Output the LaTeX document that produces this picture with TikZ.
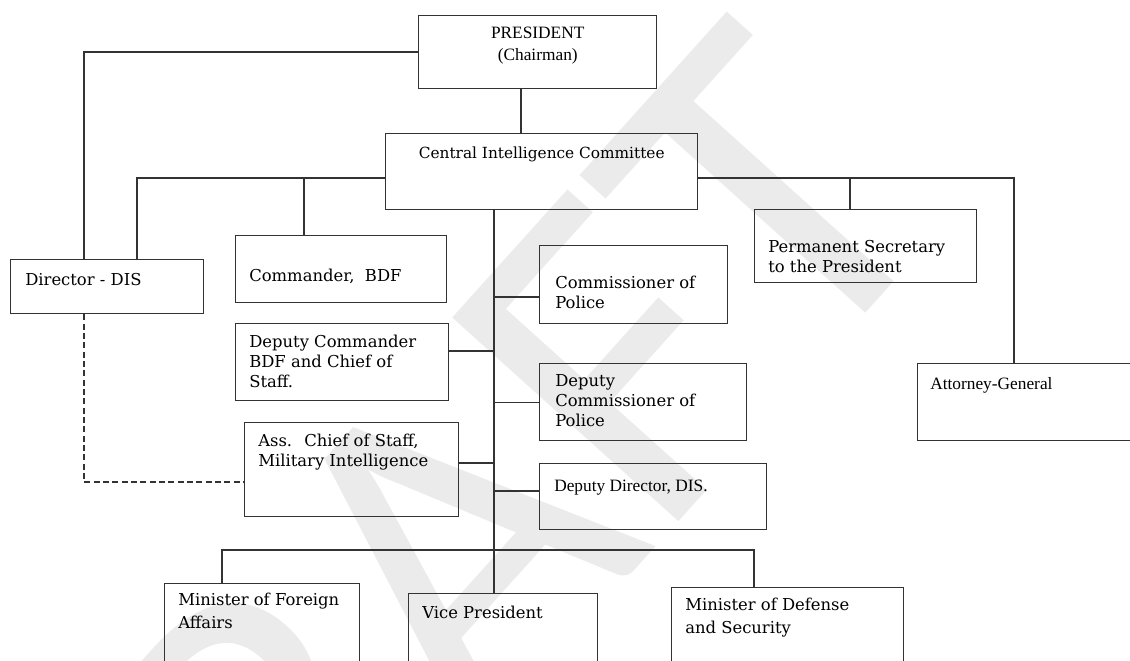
\documentclass[tikz,border=0pt]{standalone}
\usepackage{fontspec}
\setmainfont{DejaVu Serif}
\newfontfamily\tnr{Liberation Serif}
\newfontfamily\calib{Carlito}
\usepackage{tikz}
\usetikzlibrary{positioning}
\definecolor{boxline}{HTML}{333333}
\definecolor{wmgray}{HTML}{EBEBEB}

\tikzset{
  orgbox/.style={draw=boxline, line width=1.1pt, anchor=north west, inner sep=0pt},
  orgtxt/.style={inner sep=0pt, align=left, font=\fontsize{12.3}{15}\selectfont},
  wideline/.style={font=\fontsize{12.3}{17.25}\selectfont},
  tnrtxt/.style={inner sep=0pt, align=left, font=\tnr\fontsize{13}{16.5}\selectfont},
  link/.style={draw=boxline, line width=1.1pt},
  wmark/.style={text=wmgray, inner sep=0pt, font=\calib\fontsize{356}{356}\selectfont},
}

\begin{document}
\begin{tikzpicture}[x=0.75pt,y=-0.75pt]
  \useasboundingbox (0,0) rectangle (1130,660);
  \clip (0,0) rectangle (1130,660);
  \node[wmark,rotate=48,anchor=base east] (draft) at (958,211) {DRAFT};

  % boxes
  \node[orgbox,minimum width=178.5pt,minimum height=54.75pt] (pres) at (418,15) {};
  \node[orgbox,minimum width=234pt,minimum height=57pt] (cic) at (385,133) {};
  \node[orgbox,minimum width=144.75pt,minimum height=40.5pt] (dis) at (10,259) {};
  \node[orgbox,minimum width=158.25pt,minimum height=50.25pt] (cbdf) at (235,235) {};
  \node[orgbox,minimum width=141pt,minimum height=58.5pt] (cop) at (539,245) {};
  \node[orgbox,minimum width=166.5pt,minimum height=54.75pt] (psec) at (754,209) {};
  \node[orgbox,minimum width=159.75pt,minimum height=57.75pt] (dcbdf) at (235,323) {};
  \node[orgbox,minimum width=155.25pt,minimum height=57.75pt] (dcop) at (539,363) {};
  \node[orgbox,minimum width=172.5pt,minimum height=57.75pt] (ag) at (917,363) {};
  \node[orgbox,minimum width=160.5pt,minimum height=70.5pt] (acos) at (244,422) {};
  \node[orgbox,minimum width=170.25pt,minimum height=49.5pt] (ddis) at (539,463) {};
  \node[orgbox,minimum width=146.25pt,minimum height=75pt] (mfa) at (164,583) {};
  \node[orgbox,minimum width=141.75pt,minimum height=75pt] (vp) at (408,593) {};
  \node[orgbox,minimum width=174pt,minimum height=75pt] (mds) at (671,587) {};

  % texts
  \node[tnrtxt,align=center,below=9pt of pres.north] (pres-t) {PRESIDENT\\(Chairman)};
  \node[orgtxt,font=\fontsize{11.5}{15}\selectfont,below=10.5pt of cic.north] (cic-t) {Central Intelligence Committee};
  \node[orgtxt,below right=10.5pt and 11.25pt of dis.north west] (dis-t) {Director - DIS};
  \node[orgtxt,below right=25.5pt and 10.5pt of cbdf.north west] (cbdf-t) {Commander,~ BDF};
  \node[orgtxt,below right=23.25pt and 12pt of cop.north west] (cop-t) {Commissioner of\\Police};
  \node[orgtxt,below right=23.25pt and 10.5pt of psec.north west] (psec-t) {Permanent Secretary\\to the President};
  \node[orgtxt,below right=9pt and 10.5pt of dcbdf.north west] (dcbdf-t) {Deputy Commander\\BDF and Chief of\\Staff.};
  \node[orgtxt,below right=8.25pt and 12pt of dcop.north west] (dcop-t) {Deputy\\Commissioner of\\Police};
  \node[tnrtxt,below right=10.5pt and 9.75pt of ag.north west] (ag-t) {Attorney-General};
  \node[orgtxt,below right=9pt and 10.5pt of acos.north west] (acos-t) {Ass.~ Chief of Staff,\\Military Intelligence};
  \node[tnrtxt,below right=12.75pt and 11.25pt of ddis.north west] (ddis-t) {Deputy Director, DIS.};
  \node[orgtxt,wideline,below right=7.5pt and 10.5pt of mfa.north west] (mfa-t) {Minister of Foreign\\Affairs};
  \node[orgtxt,below right=9.75pt and 10.5pt of vp.north west] (vp-t) {Vice President};
  \node[orgtxt,wideline,below right=8.25pt and 10.5pt of mds.north west] (mds-t) {Minister of Defense\\and Security};

  % connectors
  \draw[link] (pres.west) -| (dis.north -| 84,0);
  \draw[link] (pres.south -| 521,0) -- (cic.north -| 521,0);
  \draw[link] (cic.west |- 0,178) -| (dis.north -| 137,0);
  \draw[link] (cbdf.north -| 304,0) |- (cic.west |- 0,178);
  \draw[link] (cic.east |- 0,178) -| (ag.north -| 1014,0);
  \draw[link] (psec.north -| 850,0) |- (cic.east |- 0,178);
  \coordinate (trunk) at (494,0);
  \draw[link] (cic.south -| trunk) -- (vp.north -| trunk);
  \draw[link] (cop.west |- 0,297) -- (trunk |- 0,297);
  \draw[link] (dcbdf.east |- 0,351) -- (trunk |- 0,351);
  \draw[link] (dcop.west) -- (trunk |- dcop.west);
  \draw[link] (acos.east |- 0,463) -- (trunk |- 0,463);
  \draw[link] (ddis.west |- 0,491) -- (trunk |- 0,491);
  \draw[link] (mfa.north -| 222,0) -- ++(0,-33) -| (mds.north -| 754,0);
  \draw[link,line width=0.9pt,dash pattern=on 4.5pt off 2.5pt] (dis.south -| 84,0) |- (acos.west |- 0,482);
\end{tikzpicture}
\end{document}
